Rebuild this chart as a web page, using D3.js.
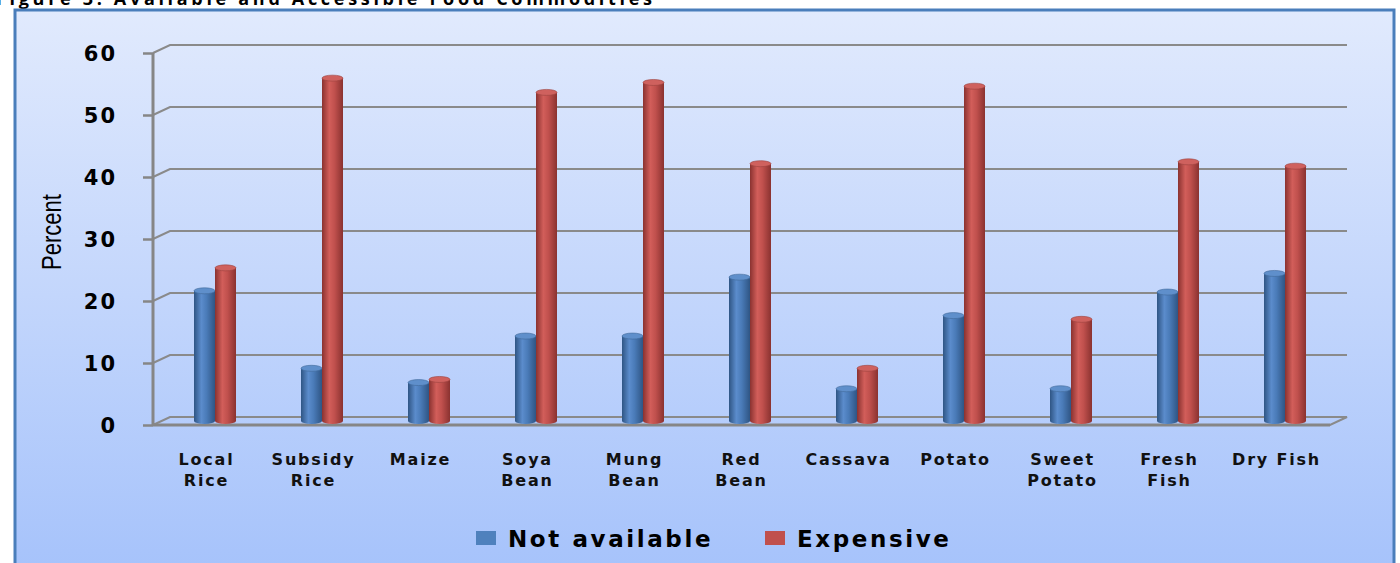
<!DOCTYPE html>
<html>
<head>
<meta charset="utf-8">
<script src="https://cdn.jsdelivr.net/npm/d3@7"></script>
<style>
  body { margin: 0; background: #fff; }
  svg { display: block; }
</style>
</head>
<body>
<svg id="chart" width="1400" height="563"></svg>
<script>
// data
var categories = ["Local Rice", "Subsidy Rice", "Maize", "Soya Bean", "Mung Bean", "Red Bean",
                  "Cassava", "Potato", "Sweet Potato", "Fresh Fish", "Dry Fish"];
var catLines = [["Local", "Rice"], ["Subsidy", "Rice"], ["Maize"], ["Soya", "Bean"], ["Mung", "Bean"],
                ["Red", "Bean"], ["Cassava"], ["Potato"], ["Sweet", "Potato"], ["Fresh", "Fish"], ["Dry Fish"]];
var series = ["Not available", "Expensive"];
var notAvailable = [21, 8.5, 6.2, 13.7, 13.7, 23.2, 5.2, 17, 5.2, 20.8, 23.8];
var expensive = [24.7, 55.3, 6.7, 53, 54.6, 41.5, 8.5, 54, 16.4, 41.8, 41.1];
var yTicks = [0, 10, 20, 30, 40, 50, 60];
var title = "Figure 3: Available and Accessible Food Commodities";

var svg = d3.select("#chart");
var defs = svg.append("defs");

//background gradient of the chart area
var bg = defs.append("linearGradient").attr("id", "bg").attr("x1", 0).attr("y1", 0).attr("x2", 0).attr("y2", 1);
bg.append("stop").attr("offset", "0%").attr("stop-color", "#e1eafd");
bg.append("stop").attr("offset", "100%").attr("stop-color", "#a5c2fb");

//cylinder gradients
function cylGrad(id, dark, mid, light) {
  var g = defs.append("linearGradient").attr("id", id).attr("x1", 0).attr("y1", 0).attr("x2", 1).attr("y2", 0);
  g.append("stop").attr("offset", "0%").attr("stop-color", dark);
  g.append("stop").attr("offset", "35%").attr("stop-color", light);
  g.append("stop").attr("offset", "60%").attr("stop-color", mid);
  g.append("stop").attr("offset", "100%").attr("stop-color", dark);
}
cylGrad("blueCyl", "#2f5584", "#4a7bb8", "#5b8ccc");
cylGrad("redCyl", "#8a3230", "#c0504d", "#d25e5a");
var colors = { "Not available": "#4f81bd", "Expensive": "#c0504d" };
var tops = { "Not available": "#5f8fcb", "Expensive": "#cf615e" };
var grads = { "Not available": "url(#blueCyl)", "Expensive": "url(#redCyl)" };

//title, cut off at the top like in the source
svg.append("text")
  .attr("x", -4).attr("y", 5)
  .attr("font-family", "Open Sans, sans-serif")
  .attr("font-weight", "bold")
  .attr("font-size", 18)
  .attr("textLength", 656)
  .attr("fill", "#000")
  .text(title);

//frame
svg.append("rect")
  .attr("x", 15).attr("y", 10).attr("width", 1379).attr("height", 570)
  .attr("fill", "url(#bg)")
  .attr("stroke", "#4a7ebb").attr("stroke-width", 3);

//scales
var x0 = d3.scaleBand().domain(categories).range([153, 1330]);
var y = d3.scaleLinear().domain([0, 60]).range([425, 53]);
var dx = 17, dy = -8;

//gridlines with depth
var grid = svg.append("g");
yTicks.forEach(function(t) {
  if (t == 0) return;
  grid.append("path")
    .attr("d", "M153," + y(t) + " L" + (153 + dx) + "," + (y(t) + dy) + " L" + (1330 + dx) + "," + (y(t) + dy))
    .attr("fill", "none").attr("stroke", "#8a8a8a").attr("stroke-width", 2);
});

//floor
svg.append("path")
  .attr("d", "M153," + y(0) + " L" + (153 + dx) + "," + (y(0) + dy) + " L" + (1330 + dx) + "," + (y(0) + dy) +
             " L1330," + y(0) + " Z")
  .attr("fill", "none").attr("stroke", "#8a8a8a").attr("stroke-width", 2);

//y axis
var yAxis = d3.axisLeft(y).tickValues(yTicks).tickSize(10).tickPadding(26);
var ya = svg.append("g").attr("transform", "translate(153,0)").call(yAxis);
ya.select(".domain").attr("stroke", "#868686").attr("stroke-width", 3).attr("d", "M0," + y(0) + "V" + y(60));
ya.selectAll(".tick line").attr("stroke", "#868686").attr("stroke-width", 2.5);
ya.selectAll(".tick text")
  .attr("font-family", "DejaVu Sans, sans-serif").attr("font-weight", "bold")
  .attr("font-size", 21).attr("letter-spacing", 2).attr("fill", "#000").attr("dy", "0.36em");

//front floor line
svg.append("line").attr("x1", 153).attr("x2", 1330).attr("y1", y(0)).attr("y2", y(0))
  .attr("stroke", "#868686").attr("stroke-width", 3);

//axis title
svg.append("text")
  .attr("transform", "translate(61,232) rotate(-90)")
  .attr("text-anchor", "middle")
  .attr("font-family", "Liberation Sans Narrow, Liberation Sans, sans-serif")
  .attr("font-size", 27)
  .attr("textLength", 76).attr("lengthAdjust", "spacingAndGlyphs")
  .attr("fill", "#000")
  .text("Percent");

//bars as cylinders, placed at half depth
var x1 = d3.scaleBand().domain(series).range([-21, 21]);
var rows = categories.map(function(c, i) {
  return { cat: c, vals: [{ s: series[0], v: notAvailable[i] }, { s: series[1], v: expensive[i] }] };
});
var barG = svg.append("g");
rows.forEach(function(r) {
  var cx = x0(r.cat) + x0.bandwidth() / 2 + dx / 2;
  r.vals.forEach(function(d) {
    var bx = cx + x1(d.s);
    var w = x1.bandwidth();
    var top = y(d.v) + dy / 2;
    var base = y(0) + dy / 2;
    barG.append("ellipse").attr("cx", bx + w / 2).attr("cy", base).attr("rx", w / 2).attr("ry", 3)
      .attr("fill", grads[d.s]);
    barG.append("rect").attr("x", bx).attr("y", top).attr("width", w).attr("height", base - top)
      .attr("fill", grads[d.s]);
    barG.append("ellipse").attr("cx", bx + w / 2).attr("cy", top).attr("rx", w / 2).attr("ry", 3)
      .attr("fill", tops[d.s]).attr("stroke", d3.color(colors[d.s]).darker(0.6)).attr("stroke-width", 0.6);
  });
});

//category labels
var lab = svg.append("g")
  .attr("font-family", "DejaVu Sans, sans-serif").attr("font-weight", "bold")
  .attr("font-size", 16).attr("letter-spacing", 1.8).attr("text-anchor", "middle").attr("fill", "#111");
categories.forEach(function(c, i) {
  var t = lab.append("text").attr("x", x0(c) + x0.bandwidth() / 2).attr("y", 465);
  catLines[i].forEach(function(l, j) {
    t.append("tspan").attr("x", x0(c) + x0.bandwidth() / 2).attr("dy", j == 0 ? 0 : 21).text(l);
  });
});

//legend
var legX = [476, 765];
var leg = svg.append("g");
series.forEach(function(s, i) {
  leg.append("rect").attr("x", legX[i]).attr("y", 531).attr("width", 20).attr("height", 14).attr("fill", colors[s]);
  leg.append("text").attr("x", legX[i] + 32).attr("y", 547)
    .attr("font-family", "DejaVu Sans, sans-serif").attr("font-weight", "bold")
    .attr("font-size", 23).attr("letter-spacing", 2.6).attr("fill", "#000")
    .text(s);
});
</script>
</body>
</html>
